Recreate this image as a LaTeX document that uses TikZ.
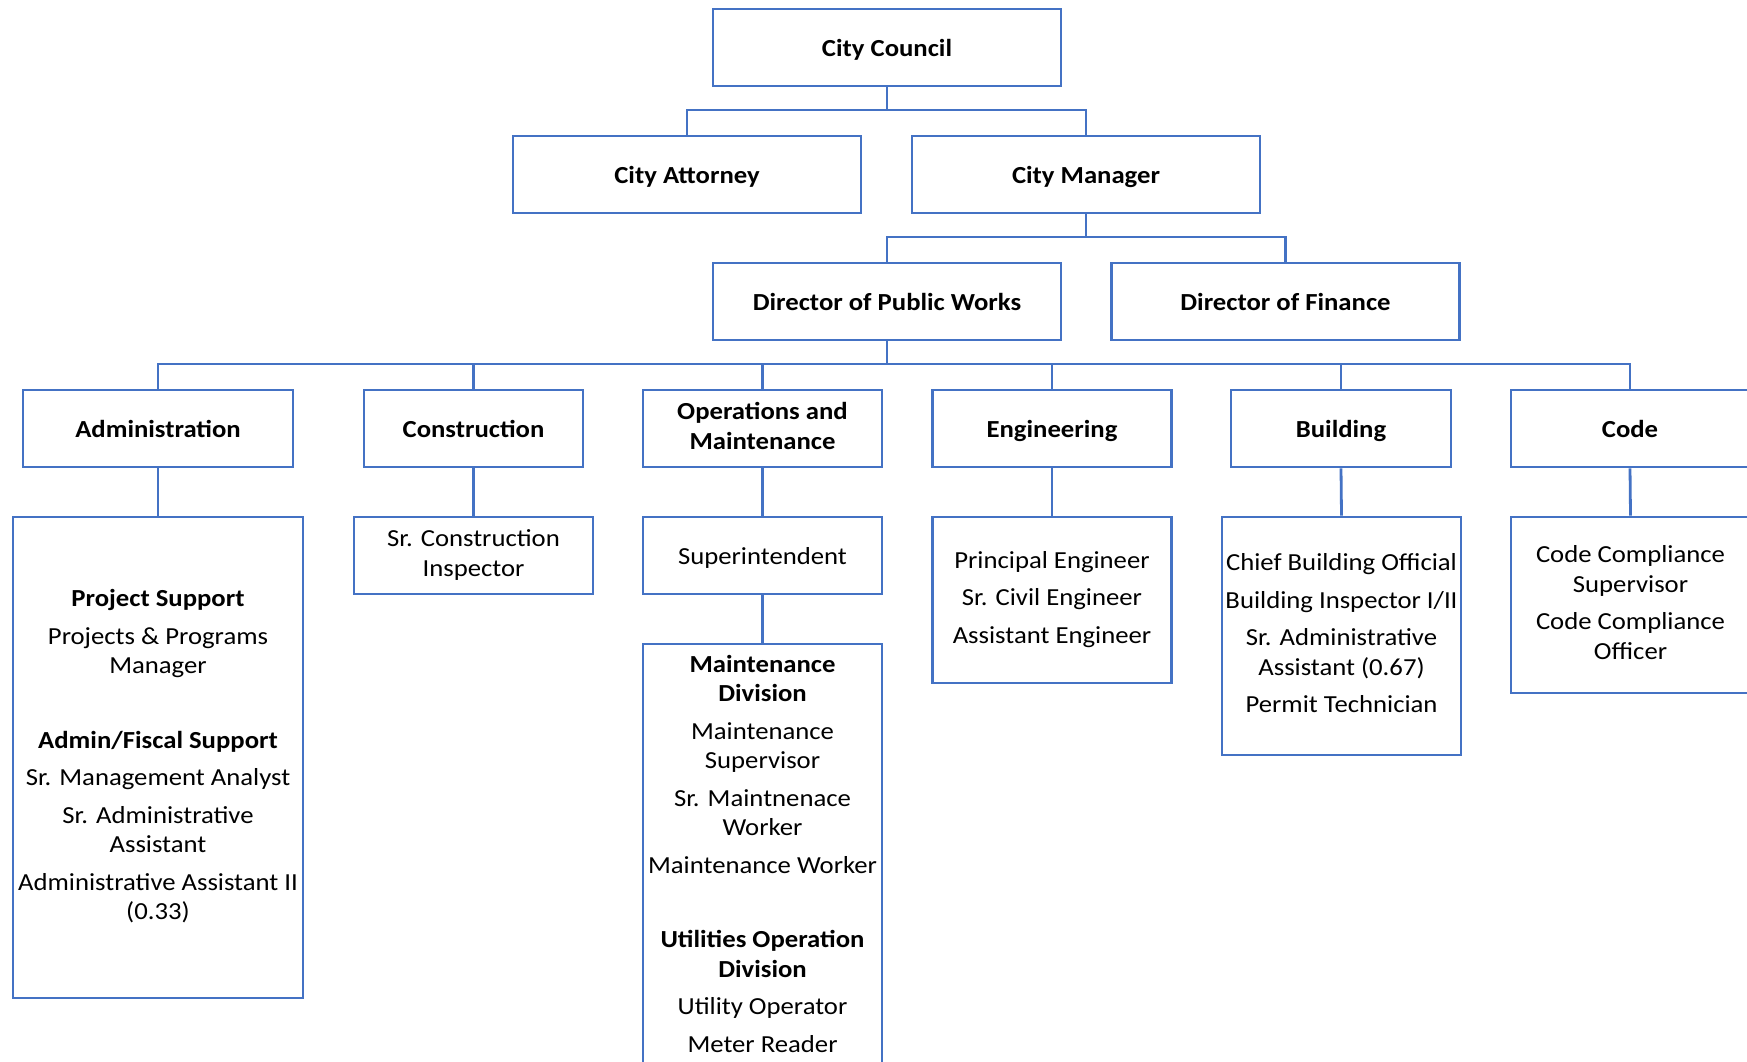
\documentclass[tikz,border=0pt]{standalone}
\usepackage{fontspec}
\setmainfont{Carlito}[FakeStretch=1.09]
\definecolor{orgblue}{HTML}{4472C4}
\newcommand\boxstrut{\rule[-5.45pt]{0pt}{29.5pt}}
\newcommand\boxstrutA{\rule[-5.45pt]{0pt}{33.9pt}}
\begin{document}
\begin{tikzpicture}[x=1pt,y=-1pt,
  box/.style={draw=orgblue, line width=2.8pt, fill=white, inner sep=0pt, align=center,
    font=\fontsize{24.5}{29.5}\selectfont, execute at begin node=\boxstrut, execute at end node=\boxstrut},
  multi/.style={execute at begin node=\boxstrutA},
  head/.style={box, font=\fontsize{24.5}{29.5}\selectfont\bfseries},
  txt/.style={inner sep=0pt, align=center, font=\fontsize{24.5}{29.5}\selectfont},
  conn/.style={draw=orgblue, line width=2.8pt}]
\fill[white] (0,0) rectangle (1747,1062);
\useasboundingbox (0,0) rectangle (1747,1062);
\clip (0,0) rectangle (1747,1062);

% level 1-3
\node[head, minimum width=348pt, minimum height=77pt] (cc) at (887,47.5) {City Council};
\node[head, minimum width=348pt, minimum height=77pt] (ca) at (687,174.5) {City Attorney};
\node[head, minimum width=348pt, minimum height=77pt] (cm) at (1086,174.5) {City Manager};
\node[head, minimum width=348pt, minimum height=77pt] (dpw) at (887,301.5) {Director of Public Works};
\node[head, minimum width=348pt, minimum height=77pt] (dof) at (1285.5,301.5) {Director of Finance};

% level 4
\node[head, minimum width=270pt, minimum height=77pt] (adm) at (158,428.5) {Administration};
\node[head, minimum width=219pt, minimum height=77pt] (con) at (473.5,428.5) {Construction};
\node[head, multi, minimum width=239pt, minimum height=77pt] (ops) at (762.5,428.5) {Operations and\\Maintenance};
\node[head, minimum width=238.5pt, minimum height=77pt] (eng) at (1052,428.5) {Engineering};
\node[head, minimum width=220pt, minimum height=77pt] (bld) at (1341,428.5) {Building};
\node[head, minimum width=238pt, minimum height=77pt] (code) at (1630,428.5) {Code};

% level 5
\node[box, multi, minimum width=290pt, minimum height=481pt] (admsub) at (158,757.5)
 {\textbf{Project Support}\\[8pt]
  Projects \& Programs\\Manager\\[45pt]
  \textbf{Admin/Fiscal Support}\\[8pt]
  Sr. Management Analyst\\[8pt]
  Sr. Administrative\\Assistant\\[8pt]
  Administrative Assistant II\\(0.33)};
\node[box, multi, minimum width=239pt, minimum height=77pt] (consub) at (473.5,555.5) {Sr. Construction\\Inspector};
\node[box, minimum width=239pt, minimum height=77pt] (sup) at (762.5,555.5) {Superintendent};
\node[box, multi, minimum width=238.5pt, minimum height=166pt] (engsub) at (1052,600)
 {Principal Engineer\\[8pt]Sr. Civil Engineer\\[8pt]Assistant Engineer};
\node[box, multi, minimum width=239pt, minimum height=238pt] (bldsub) at (1341.5,636)
 {Chief Building Official\\[8pt]Building Inspector I/II\\[8pt]Sr. Administrative\\Assistant (0.67)\\[8pt]Permit Technician};
\node[box, multi, minimum width=239pt, minimum height=176pt] (codesub) at (1630.5,605)
 {Code Compliance\\Supervisor\\[8pt]Code Compliance\\Officer};
\node[draw=orgblue, line width=2.8pt, fill=white, minimum width=239pt, minimum height=440pt] (maint) at (762.5,864) {};
\node[txt] (mainttxt) at (762.5,853.5)
 {\textbf{Maintenance}\\\textbf{Division}\\[8pt]
  Maintenance\\Supervisor\\[8pt]
  Sr. Maintnenace\\Worker\\[8pt]
  Maintenance Worker\\[45pt]
  \textbf{Utilities Operation}\\\textbf{Division}\\[8pt]
  Utility Operator\\[8pt]
  Meter Reader};

% connectors
\path[conn] (cc.south) -- (cc.south |- 0,110) coordinate (b1);
\path[conn] (ca.north) |- (cm.north |- b1) -- (cm.north);
\path[conn] (cm.south) -- (cm.south |- 0,237) coordinate (b2);
\path[conn] (dpw.north) |- (dof.north |- b2) -- (dof.north);
\path[conn] (dpw.south) -- (dpw.south |- 0,364) coordinate (b3);
\path[conn] (adm.north) |- (code.north |- b3) -- (code.north);
\path[conn] (con.north) -- (con.north |- b3);
\path[conn] (ops.north) -- (ops.north |- b3);
\path[conn] (eng.north) -- (eng.north |- b3);
\path[conn] (bld.north) -- (bld.north |- b3);
\path[conn] (adm.south) -- (admsub.north);
\path[conn] (con.south) -- (consub.north);
\path[conn] (ops.south) -- (sup.north);
\path[conn] (eng.south) -- (engsub.north);
\path[conn] (bld.south) -- (bldsub.north);
\path[conn] (code.south) -- (codesub.north);
\path[conn] (sup.south) -- (maint.north);
\end{tikzpicture}
\end{document}
